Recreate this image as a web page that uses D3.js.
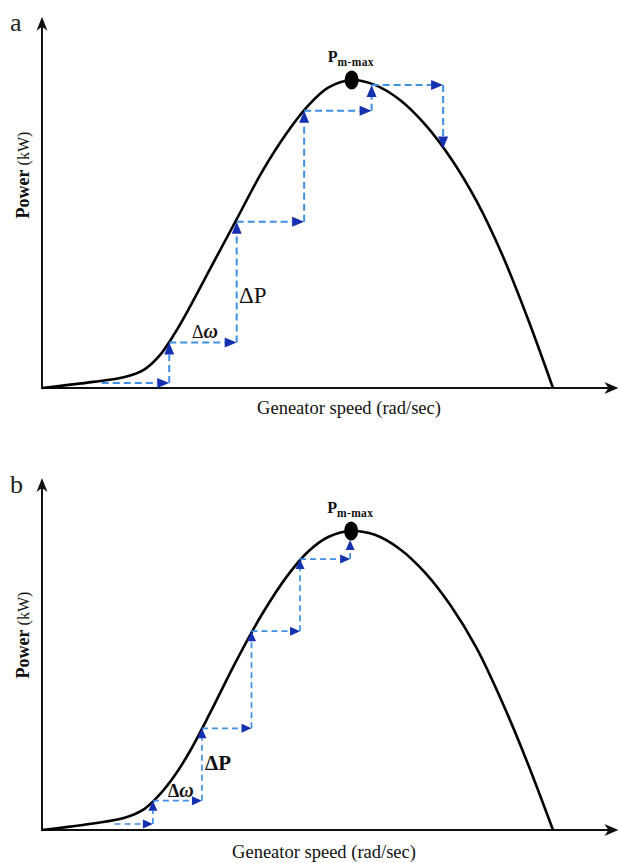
<!DOCTYPE html>
<html><head><meta charset="utf-8">
<script src="https://cdn.jsdelivr.net/npm/d3@7"></script>
<style>body{margin:0;background:#fff}svg{display:block}</style></head>
<body><svg id="c" width="620" height="863"></svg>
<script>
// ---- data (speed and power in relative units, 0..100) ----
const curveA_speed = [0, 10, 16, 20, 23, 26, 29, 33, 38, 43, 48, 52, 56, 60.6, 65, 70, 75, 80, 85, 90, 95, 100];
const curveA_power = [0, 2.0, 3.5, 6.0, 10.5, 17.8, 26.5, 39.0, 54.5, 70.0, 83.0, 91.5, 97.5, 100, 98.5, 93.6, 85.5, 74.6, 60.8, 43.5, 22.8, 0];
const stepsA_speed = [11.7, 24.9, 24.9, 38.1, 38.1, 51.3, 51.3, 64.5, 64.5, 78.5, 78.5];
const stepsA_power = [1.6, 1.6, 14.8, 14.8, 54.0, 54.0, 90.0, 90.0, 98.4, 98.4, 77.8];

const curveB_speed = [0, 10, 16, 20, 23, 26, 29, 33, 38, 43, 48, 52, 56, 60.5, 65, 70, 75, 80, 85, 90, 95, 100];
const curveB_power = [0, 2.2, 4.0, 7.0, 11.8, 18.3, 26.5, 39.5, 56.5, 72.0, 85.0, 93.0, 98.0, 100, 98.8, 94.0, 86.0, 75.0, 61.0, 43.0, 22.5, 0];
const stepsB_speed = [14.2, 21.7, 21.7, 31.3, 31.3, 41.0, 41.0, 50.5, 50.5, 60.3, 60.3];
const stepsB_power = [2.0, 2.0, 9.8, 9.8, 34.0, 34.0, 66.5, 66.5, 90.6, 90.6, 97.0];

const peakSpeed = [60.6, 60.5];
const peakPower = [100, 100];
const panelLetters = ["a", "b"];
const xAxisLabel = "Geneator speed (rad/sec)";
const yAxisLabelMain = "Power";
const yAxisLabelUnit = " (kW)";
const peakLabelMain = "P";
const peakLabelSub = "m-max";

const svg = d3.select("#c");
const SERIF = "'Liberation Serif','Times New Roman',serif";
const dashColor = "#3f8fe4";
const headColor = "#1530b0";

function drawPanel(cfg) {
  const x = d3.scaleLinear().domain([0, 100]).range([42, 553]);
  const y = d3.scaleLinear().domain([0, 100]).range([cfg.y0, cfg.yPeak]);
  const g = svg.append("g");

  // axes
  const xEnd = x(cfg.xMax), yTop = y(cfg.yMax);
  g.append("line").attr("x1", x(0)).attr("y1", y(0)).attr("x2", xEnd - 6).attr("y2", y(0))
    .attr("stroke", "#111").attr("stroke-width", 2);
  g.append("line").attr("x1", x(0)).attr("y1", y(0) + 1).attr("x2", x(0)).attr("y2", yTop + 6)
    .attr("stroke", "#111").attr("stroke-width", 2);
  g.append("path").attr("fill", "#111")
    .attr("d", `M${xEnd},${y(0)} L${xEnd-14},${y(0)-6} L${xEnd-10},${y(0)} L${xEnd-14},${y(0)+6} Z`);
  g.append("path").attr("fill", "#111")
    .attr("d", `M${x(0)},${yTop} L${x(0)-5.5},${yTop+14} L${x(0)},${yTop+10} L${x(0)+5.5},${yTop+14} Z`);

  // curve
  const pts = cfg.cs.map((s, i) => [s, cfg.cp[i]]);
  const line = d3.line().x(d => x(d[0])).y(d => y(d[1])).curve(d3.curveCatmullRom.alpha(0.5));
  g.append("path").datum(pts).attr("d", line).attr("fill", "none")
    .attr("stroke", "#000").attr("stroke-width", 2.6).attr("stroke-linejoin", "round");

  // steps (dashed arrows)
  const sp = cfg.ss.map((s, i) => [x(s), y(cfg.sp[i])]);
  for (let i = 0; i < sp.length - 1; i++) {
    const [x1, y1] = sp[i], [x2, y2] = sp[i + 1];
    const dx = x2 - x1, dy = y2 - y1, L = Math.hypot(dx, dy);
    const ux = dx / L, uy = dy / L;
    const hl = Math.min(cfg.headL, L * 0.6), hw = cfg.headW;
    const bx = x2 - ux * hl, by = y2 - uy * hl;
    g.append("line").attr("x1", x1).attr("y1", y1).attr("x2", bx).attr("y2", by)
      .attr("stroke", dashColor).attr("stroke-width", cfg.dashW).attr("stroke-dasharray", cfg.dash);
    g.append("path").attr("fill", headColor)
      .attr("d", `M${x2},${y2} L${bx - uy*hw},${by + ux*hw} L${bx + uy*hw},${by - ux*hw} Z`);
  }

  // peak dot
  g.append("ellipse").attr("cx", x(cfg.pk[0])).attr("cy", y(cfg.pk[1]))
    .attr("rx", 7).attr("ry", 9.5).attr("fill", "#000");

  // peak label
  const pl = g.append("text").attr("x", x(cfg.pk[0]) - 24).attr("y", y(cfg.pk[1]) - 18)
    .attr("font-family", SERIF).attr("font-weight", "bold").attr("fill", "#111");
  pl.append("tspan").attr("font-size", 16).text(peakLabelMain);
  pl.append("tspan").attr("font-size", 11.5).attr("dy", 4).attr("letter-spacing", 0.4).text(peakLabelSub);

  // panel letter
  g.append("text").attr("x", 10).attr("y", cfg.letterY).attr("font-family", SERIF)
    .attr("font-size", 26).attr("fill", "#222").text(cfg.letter);

  // y label
  const yl = g.append("text").attr("transform", `translate(29,${cfg.yLabelY}) rotate(-90)`)
    .attr("text-anchor", "middle").attr("font-family", SERIF).attr("fill", "#111");
  yl.append("tspan").attr("font-size", 18).attr("font-weight", "bold").text(yAxisLabelMain);
  yl.append("tspan").attr("font-size", 16).text(yAxisLabelUnit);

  // x label
  g.append("text").attr("x", cfg.xLabelX).attr("y", cfg.xLabelY).attr("text-anchor", "middle")
    .attr("font-family", SERIF).attr("font-size", 18.5).attr("fill", "#111").text(xAxisLabel);

  // delta labels
  const dw = g.append("text").attr("x", cfg.dwX).attr("y", cfg.dwY).attr("font-family", SERIF)
    .attr("font-size", cfg.dwSize).attr("fill", "#111").attr("font-weight", cfg.bold ? "bold" : "normal");
  dw.append("tspan").text("Δ");
  dw.append("tspan").attr("font-style", "italic").attr("font-weight", "bold").attr("font-size", cfg.dwSize + 2).text("ω");
  g.append("text").attr("x", cfg.dpX).attr("y", cfg.dpY).attr("font-family", SERIF)
    .attr("font-size", cfg.dpSize).attr("fill", "#111").attr("font-weight", cfg.bold ? "bold" : "normal")
    .text("ΔP");
}

drawPanel({
  y0: 388, yPeak: 80, xMax: 112.8, yMax: 120.5,
  cs: curveA_speed, cp: curveA_power, ss: stepsA_speed, sp: stepsA_power,
  pk: [peakSpeed[0], peakPower[0]], letter: panelLetters[0], letterY: 31,
  yLabelY: 175, xLabelX: 349, xLabelY: 414,
  dash: "7,4", dashW: 2, headL: 12, headW: 5,
  dwX: 192, dwY: 338, dwSize: 18, dpX: 239, dpY: 303, dpSize: 23, bold: false
});
drawPanel({
  y0: 830, yPeak: 531, xMax: 112.8, yMax: 117.7,
  cs: curveB_speed, cp: curveB_power, ss: stepsB_speed, sp: stepsB_power,
  pk: [peakSpeed[1], peakPower[1]], letter: panelLetters[1], letterY: 493,
  yLabelY: 635, xLabelX: 324, xLabelY: 858,
  dash: "6,4", dashW: 1.7, headL: 10, headW: 4.5,
  dwX: 168, dwY: 797, dwSize: 18, dpX: 205, dpY: 770, dpSize: 21, bold: true
});
</script>
</body></html>
